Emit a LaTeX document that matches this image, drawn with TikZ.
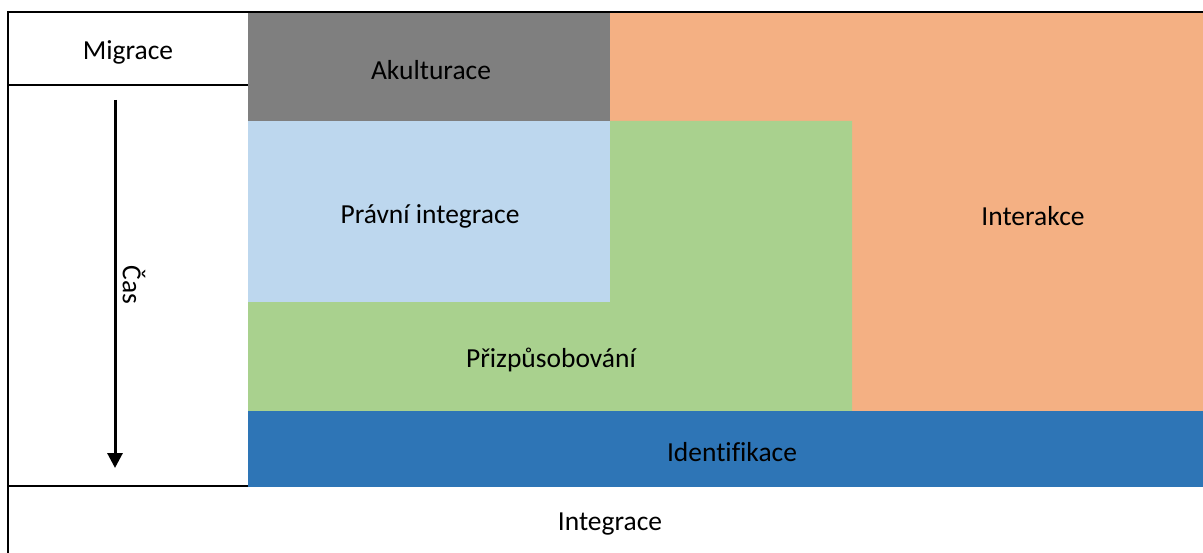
\documentclass[tikz,border=0pt]{standalone}
\usepackage{fontspec}
\setmainfont[Ligatures=NoCommon]{Carlito}
\usetikzlibrary{arrows.meta}
\definecolor{cgray}{HTML}{7F7F7F}
\definecolor{cpeach}{HTML}{F4B083}
\definecolor{clblue}{HTML}{BDD7EE}
\definecolor{cgreen}{HTML}{A9D18E}
\definecolor{cblue}{HTML}{2E75B6}
\tikzset{
  lbl/.style={font=\fontsize{27.5}{32}\selectfont, text=black, inner sep=0pt},
  frame/.style={line width=2.2pt, black}
}
\begin{document}
\begin{tikzpicture}[x=1pt,y=-1pt]
\useasboundingbox (0,0) rectangle (1203,553);
% regions
\fill[cpeach] (610,12) rectangle (1203,411);
\fill[cgray] (248,12) rectangle (610,121);
\fill[cgreen] (610,121) -- (852,121) -- (852,411) -- (248,411) -- (248,302) -- (610,302) -- cycle;
\fill[clblue] (248,121) rectangle (610,302);
\fill[cblue] (248,411) rectangle (1203,486.5);
% frame lines
\draw[frame] (8,12) -- (1203,12);
\draw[frame] (8,11) -- (8,553);
\draw[frame] (8,85) -- (248,85);
\draw[frame] (8,486) -- (248,486);
% arrow
\coordinate (atop) at (115,100);
\coordinate (abot) at (115,468);
\draw[line width=3pt, -{Triangle[width=15pt,length=15pt]}] (atop) -- (abot);
% labels
\node[lbl] (mig) at (128,52) {Migrace};
\node[lbl] (aku) at (431,70) {Akulturace};
\node[lbl] (prav) at (430,216) {Právní integrace};
\node[lbl] (pri) at (551,360) {Přizpůsobování};
\node[lbl] (inter) at (1033,216) {Interakce};
\node[lbl] (ident) at (732,452) {Identifikace};
\node[lbl] (integ) at (610,524) {Integrace};
\node[lbl, rotate=-90] (cas) at (134,285) {Čas};
\end{tikzpicture}
\end{document}
